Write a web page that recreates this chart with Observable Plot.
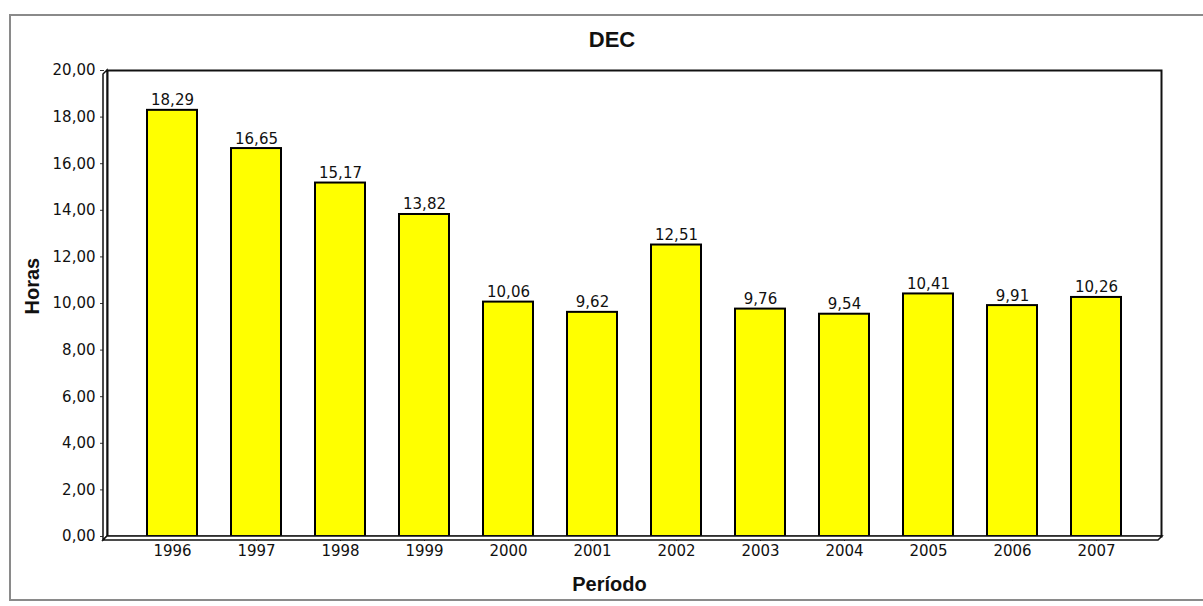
<!DOCTYPE html>
<html>
<head>
<meta charset="utf-8">
<script src="https://cdn.jsdelivr.net/npm/d3@7"></script>
<script src="https://cdn.jsdelivr.net/npm/@observablehq/plot@0.6"></script>
<style>
  html, body { margin: 0; padding: 0; background: #fff; }
  #wrap { position: relative; width: 1203px; height: 606px; overflow: hidden; }
  #border { position: absolute; left: 9px; top: 14px; width: 1300px; height: 587px;
            border: 2px solid #8a8a8a; box-sizing: border-box; }
  #title { position: absolute; left: 0; top: 0; width: 1224px; height: 56px; text-align: center;
           font-family: "Liberation Sans", Arial, sans-serif; font-weight: bold; font-size: 22px;
           line-height: 80px; color: #111; }
  #chart { position: absolute; left: 0; top: 56px; }
</style>
</head>
<body>
<div id="wrap">
  <div id="border"></div>
  <div id="title"></div>
  <div id="chart"></div>
</div>
<script>
const title = "DEC";
const yLabel = "Horas";
const xLabel = "Período";
const years = ["1996","1997","1998","1999","2000","2001","2002","2003","2004","2005","2006","2007"];
const values = [18.29, 16.65, 15.17, 13.82, 10.06, 9.62, 12.51, 9.76, 9.54, 10.41, 9.91, 10.26];
const yTicks = [0, 2, 4, 6, 8, 10, 12, 14, 16, 18, 20];

const data = years.map((y, i) => ({year: y, value: values[i]}));
const fmt = d => d.toFixed(2).replace(".", ",");

document.getElementById("title").textContent = title;

const chart = Plot.plot({
  width: 1203,
  height: 550,
  marginLeft: 107,
  marginRight: 42,
  marginTop: 14,
  marginBottom: 70,
  style: {fontFamily: "'DejaVu Sans', sans-serif", fontSize: "15px", color: "#111", background: "transparent"},
  x: {domain: years, padding: 0.41, label: null},
  y: {domain: [0, 20], label: null},
  marks: [
    Plot.frame({fill: "#fff"}),
    Plot.barY(data, {x: "year", y: "value", fill: "#ffff00", stroke: "#000", strokeWidth: 2}),
    Plot.text(data, {x: "year", y: "value", text: d => fmt(d.value), lineAnchor: "bottom", dy: -5, fill: "#111"}),
    Plot.axisY({ticks: yTicks, tickFormat: fmt, tickSize: 4, tickPadding: 5, dx: -3, label: null, stroke: "#333"}),
    Plot.axisX({tickSize: 5, tickPadding: 4, label: null, stroke: "#333"}),
    Plot.frame({stroke: "#111", strokeWidth: 2}),
    Plot.text([yLabel], {frameAnchor: "left", text: d => d, rotate: -90, dx: -75, dy: 11,
      fontFamily: "'Liberation Sans', Arial, sans-serif", fontWeight: "bold", fontSize: 20, fill: "#111"}),
    Plot.text([xLabel], {frameAnchor: "bottom", text: d => d, dx: -25, dy: 54,
      fontFamily: "'Liberation Sans', Arial, sans-serif", fontWeight: "bold", fontSize: 20, fill: "#111"})
  ]
});

document.getElementById("chart").appendChild(chart);

// 3D walls derived from the scales
const sx = chart.scale("x"), sy = chart.scale("y");
const x0 = sx.range[0], x1 = sx.range[1];
const yTop = sy.apply(20), yBot = sy.apply(0);
const depth = 4;
const svg = d3.select(chart);
svg.append("polygon")
  .attr("points", `${x0},${yTop} ${x0 - depth},${yTop + depth} ${x0 - depth},${yBot + depth} ${x0},${yBot}`)
  .attr("fill", "#fff").attr("stroke", "#111").attr("stroke-width", 1.5);
svg.append("polygon")
  .attr("points", `${x0 - depth},${yBot + depth} ${x0},${yBot} ${x1 + 1},${yBot} ${x1 + 1 - depth},${yBot + depth}`)
  .attr("fill", "#fff").attr("stroke", "#111").attr("stroke-width", 1.5);
</script>
</body>
</html>
